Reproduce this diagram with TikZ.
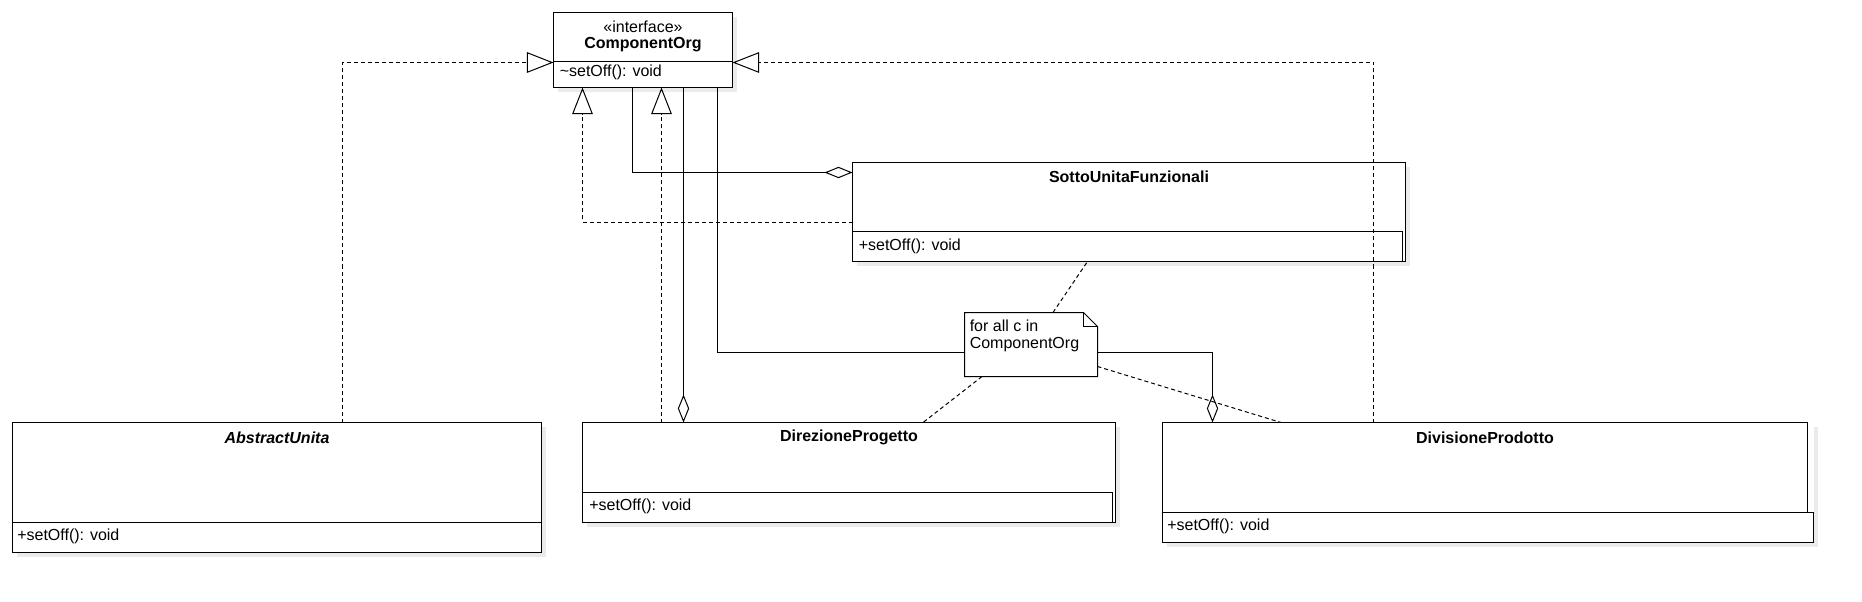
\documentclass[tikz,border=0pt]{standalone}
\usepackage{fontspec}
\setmainfont{Liberation Sans}
\usetikzlibrary{arrows.meta,fit,calc,shadows}
\newcommand{\fsz}{\fontsize{12pt}{14pt}\selectfont}
\begin{document}
\begin{tikzpicture}[x=0.75pt,y=-0.75pt,
  box/.style={draw, fill=white, line width=0.75pt, inner sep=0pt, outer sep=0pt,
    drop shadow={shadow xshift=3.5pt, shadow yshift=-3.5pt, fill=black!8, opacity=1}},
  plainbox/.style={fill=white, draw=none, inner sep=0pt, outer sep=0pt,
    drop shadow={shadow xshift=3.5pt, shadow yshift=-3.5pt, fill=black!8, opacity=1}},
  comp/.style={draw, line width=0.75pt},
  ttl/.style={font=\fsz\bfseries, inner sep=0pt},
  ttli/.style={font=\fsz\bfseries\itshape, inner sep=0pt},
  stereo/.style={font=\fsz, inner sep=0pt},
  member/.style={font=\fsz, inner sep=0pt, anchor=west},
  notetext/.style={font=\fontsize{12pt}{12.75pt}\selectfont, inner sep=0pt, align=left, anchor=north west},
  conn/.style={line width=0.75pt},
  dep/.style={conn, dash pattern=on 3pt off 2.25pt},
  realize/.style={dep, -{Triangle[open, length=20pt, width=15.5pt]}},
  aggr/.style={conn, -{Diamond[open, length=21pt, width=8.5pt]}},
  notelink/.style={conn, dash pattern=on 3pt off 2.25pt},
]
\useasboundingbox (0,0) rectangle (1862,602);

% ---------- ComponentOrg ----------
\node[box, fit={(553.5,12.5) (732.5,87.5)}] (co) {};
\draw[comp] ($(co.north west)+(0,49)$) -- ($(co.north east)+(0,49)$);
\node[stereo] (costereo) at ($(co.north)+(0,14)$) {«interface»};
\node[ttl] (coname) at ($(co.north)+(0,32)$) {ComponentOrg};
\node[member] (comem) at ($(co.north west)+(6,59.5)$) {\textasciitilde setOff(): void};

% ---------- SottoUnitaFunzionali ----------
\node[box, fit={(852.5,162.5) (1405.5,261.5)}] (sotto) {};
\draw[comp] ($(sotto.north west)+(0,69)$) rectangle ($(sotto.south east)+(-3,0)$);
\node[ttl] (sottoname) at ($(sotto.north)+(0,14)$) {SottoUnitaFunzionali};
\node[member] (sottomem) at ($(sotto.north west)+(6,84)$) {+setOff(): void};

% ---------- AbstractUnita ----------
\node[box, fit={(12.5,422.5) (541.5,552.5)}] (abs) {};
\draw[comp] ($(abs.north west)+(0,100)$) -- ($(abs.north east)+(0,100)$);
\node[ttli] (absname) at ($(abs.north)+(0,15.5)$) {AbstractUnita};
\node[member] (absmem) at ($(abs.north west)+(4.5,113.5)$) {+setOff(): void};

% ---------- DirezioneProgetto ----------
\node[box, fit={(582.5,422.5) (1115.5,522.5)}] (dir) {};
\draw[comp] ($(dir.north west)+(0,70)$) rectangle ($(dir.south east)+(-3,0)$);
\node[ttl] (dirname) at ($(dir.north)+(0,15)$) {DirezioneProgetto};
\node[member] (dirmem) at ($(dir.north west)+(6.5,83.5)$) {+setOff(): void};

% ---------- DivisioneProdotto ----------
\node[plainbox, fit={(1162.5,422.5) (1813.5,542.5)}] (div) {};
\draw[comp] (div.north west) rectangle ($(div.north west)+(645,90)$);
\draw[comp] ($(div.north west)+(0,90)$) rectangle (div.south east);
\node[ttl] (divname) at ($(div.north west)+(322.5,15)$) {DivisioneProdotto};
\node[member] (divmem) at ($(div.north west)+(4.5,104)$) {+setOff(): void};

% ---------- helper coordinates ----------
\coordinate (cw) at ($(co.north west)+(0,50)$);
\coordinate (ce) at ($(co.north east)+(0,50)$);
\coordinate (cs1) at ($(co.south west)+(29,0)$);
\coordinate (cs2) at ($(co.south west)+(79,0)$);
\coordinate (cs4) at ($(co.south west)+(108,0)$);
\coordinate (cs5) at ($(co.south west)+(130,0)$);
\coordinate (cs6) at ($(co.south west)+(164,0)$);
\coordinate (xa) at (342.5,0);
\coordinate (xd) at (1373.5,0);
\coordinate (sw1) at ($(sotto.north west)+(0,10)$);
\coordinate (sw2) at ($(sotto.north west)+(0,60)$);
\coordinate (kx) at (1212.5,352.5);

% ---------- realizations ----------
\draw[realize] (abs.north -| xa) |- (cw);
\draw[realize] (div.north -| xd) |- (ce);
\draw[realize] (sw2) -| (cs1);
\draw[realize] (dir.north -| cs4) -- (cs4);

% ---------- aggregations ----------
\draw[aggr] (cs2) |- (sw1);
\draw[aggr] (cs5) -- (dir.north -| cs5);
\draw[aggr] (cs6) |- (kx) -- (div.north -| kx);

% ---------- note ----------
\node[fit={(964.5,312.5) (1097.5,376.5)}, inner sep=0pt, outer sep=0pt] (note) {};
\draw[conn, fill=white] (note.north west) -- ($(note.north east)+(-14,0)$) -- ($(note.north east)+(0,14)$) -- (note.south east) -- (note.south west) -- cycle;
\draw[conn] ($(note.north east)+(-14,0)$) -- ($(note.north east)+(-14,14)$) -- ($(note.north east)+(0,14)$);
\node[notetext] (notetxt) at ($(note.north west)+(5,7.5)$) {for all c in\\ComponentOrg};

\coordinate (n1) at ($(note.north west)+(88.5,0)$);
\coordinate (s1) at ($(sotto.south west)+(235,0)$);
\coordinate (n2) at ($(note.south west)+(17.5,0)$);
\coordinate (d1) at ($(dir.north west)+(340.5,0)$);
\coordinate (n3) at ($(note.north east)+(0,54)$);
\coordinate (v1) at ($(div.north west)+(118.5,0)$);
\draw[notelink] (n1) -- (s1);
\draw[notelink] (n2) -- (d1);
\draw[notelink] (n3) -- (v1);
\end{tikzpicture}
\end{document}
